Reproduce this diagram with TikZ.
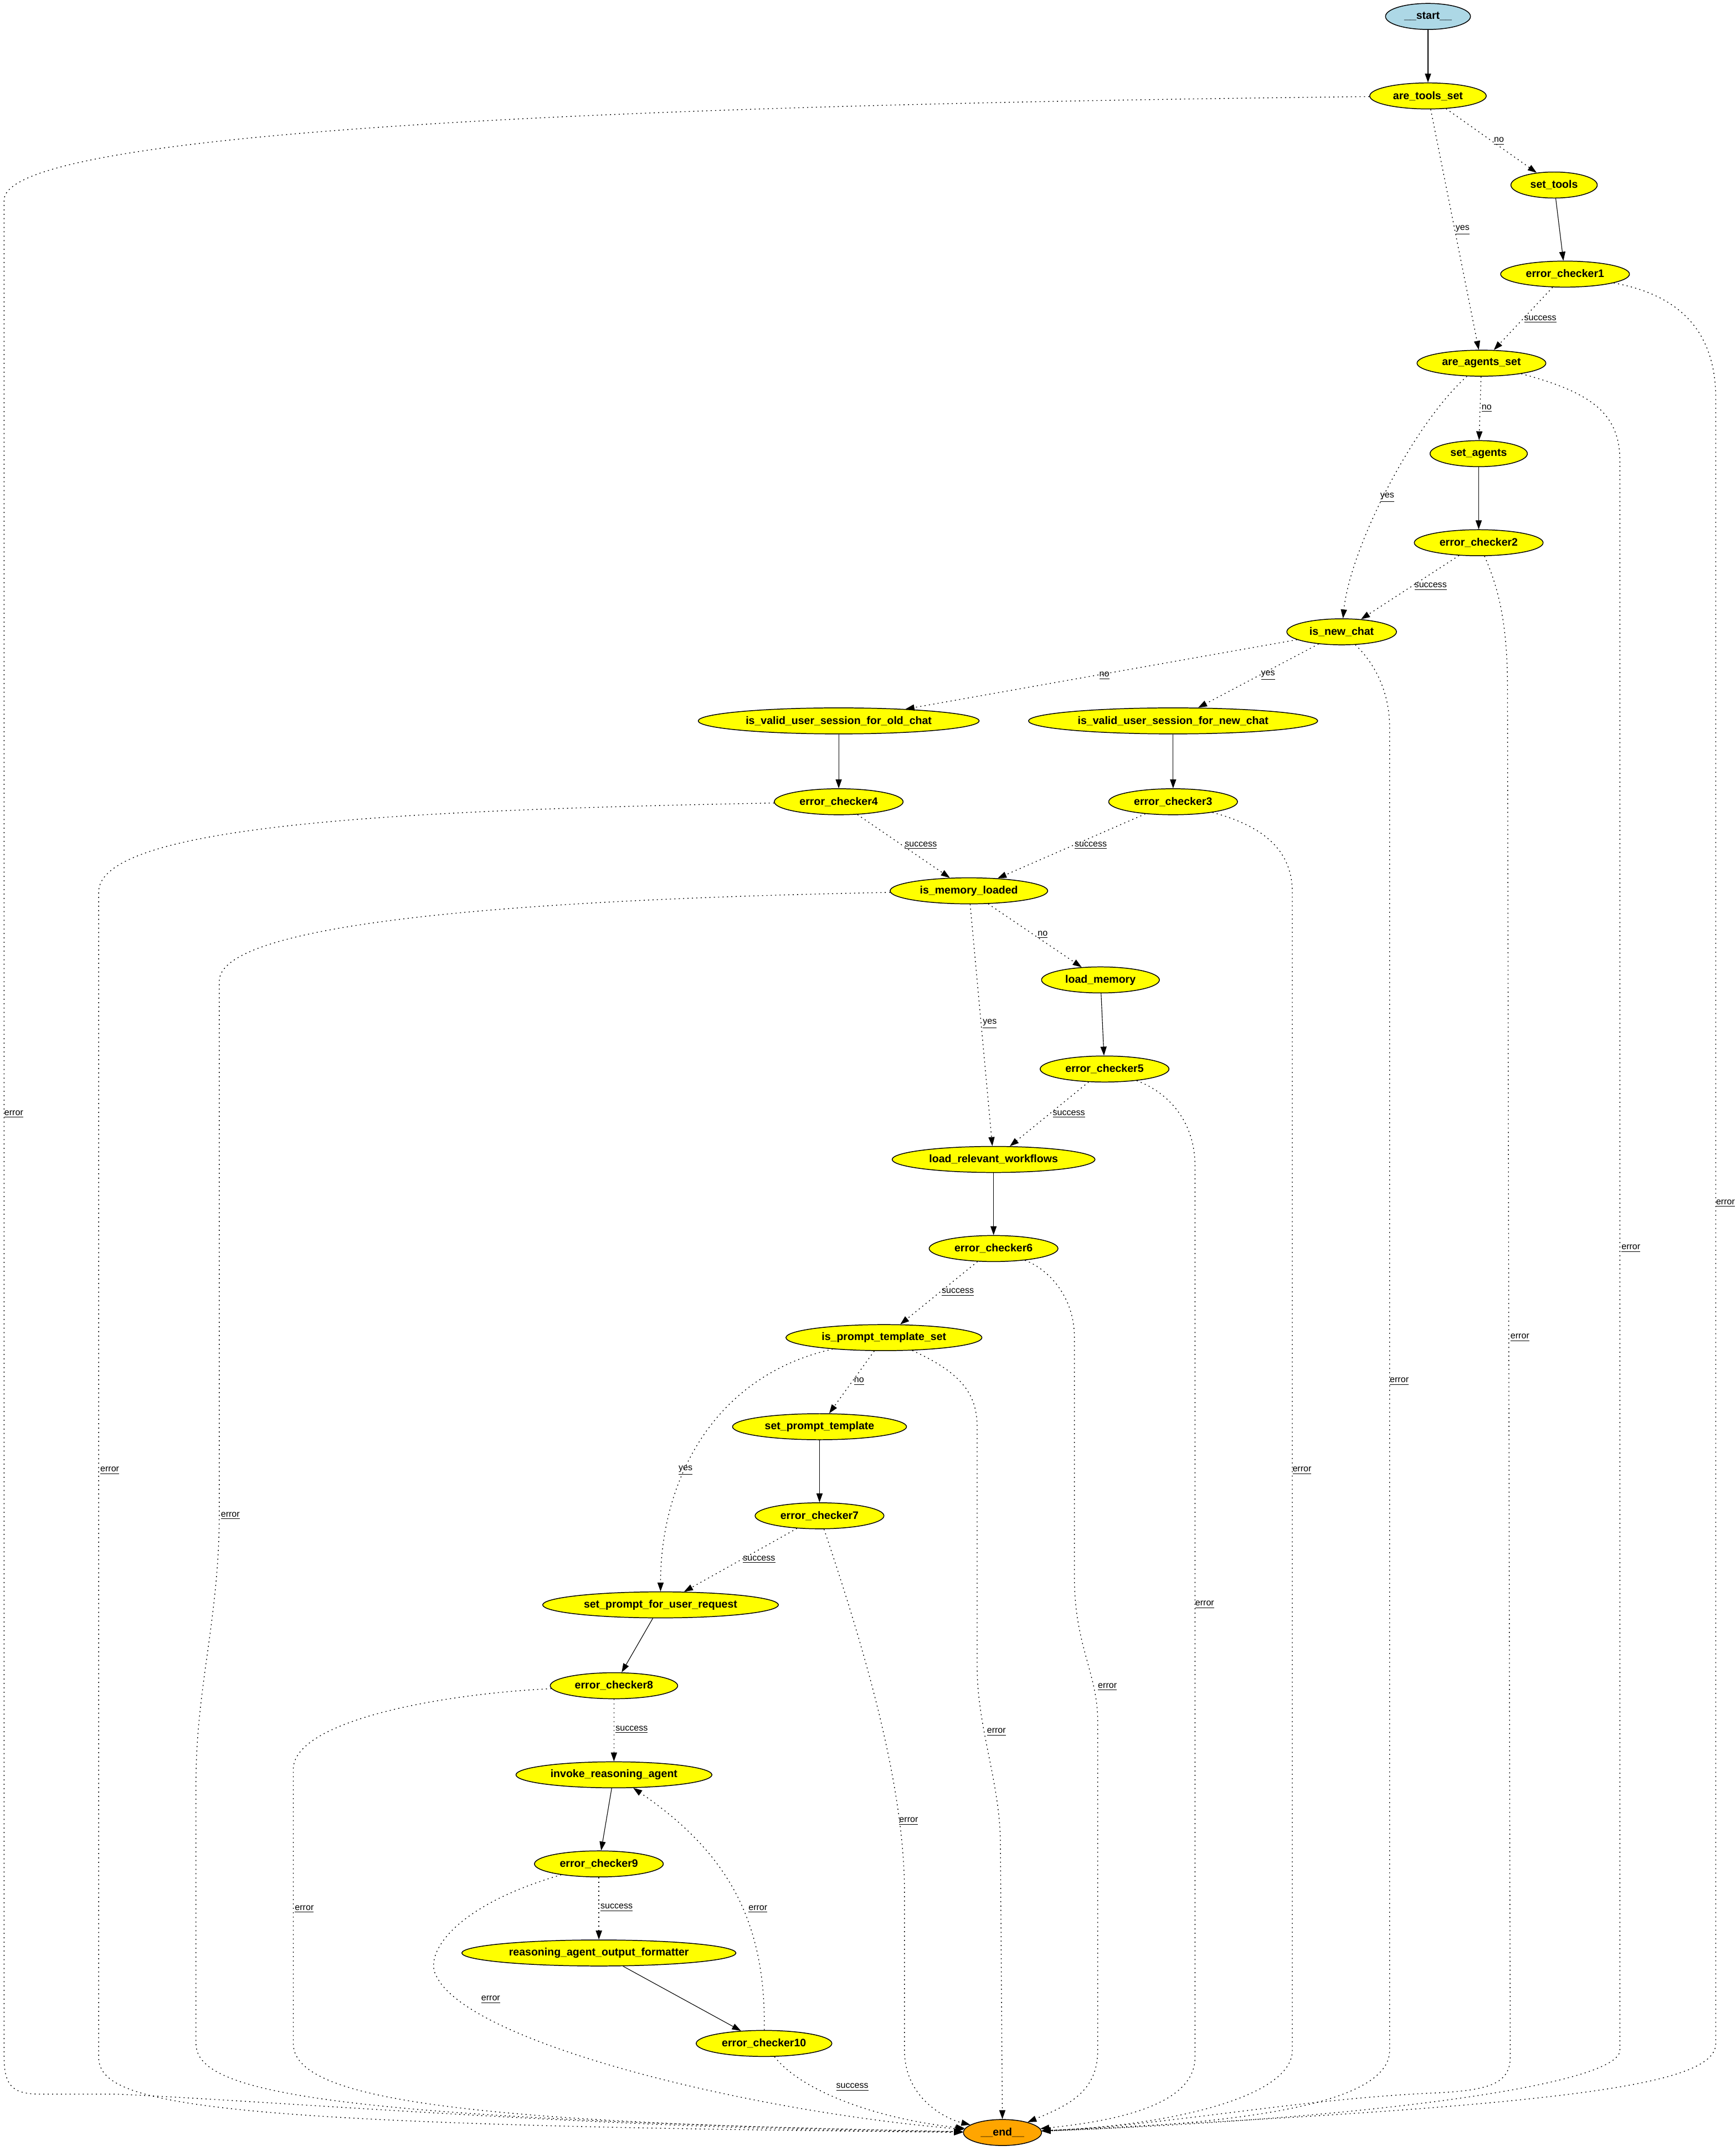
\documentclass[tikz,border=0pt]{standalone}
\usepackage{fontspec}
\setmainfont{Liberation Sans}
\usetikzlibrary{arrows.meta,shapes.geometric}
\definecolor{gvyellow}{HTML}{FFFF00}
\definecolor{gvblue}{HTML}{ADD8E6}
\definecolor{gvorange}{HTML}{FFA500}
\tikzstyle{vertex}=[ellipse,draw=black,line width=0.6pt,fill=gvyellow,minimum height=19pt,inner sep=0pt,font=\bfseries\fontsize{7.9}{9}\selectfont]
\tikzstyle{terminal vertex} = [vertex, fill=gvblue]
\tikzstyle{edge} = [draw,line width=0.45pt,-{Triangle[length=6.5pt,width=4.5pt]}]
\tikzstyle{branch edge} = [edge, line width=0.55pt, dash pattern=on 0.8pt off 2.4pt]
\tikzstyle{edge label} = [anchor=west,inner sep=0pt,font=\fontsize{6.5}{7.5}\selectfont]

\begin{document}
\begin{tikzpicture}[x=1pt,y=-1pt]
    \useasboundingbox (0,0) rectangle (1266.5,1569.5);
    % Draw the agent graph
    % First we draw the vertices
    \foreach \pos/\name/\w/\txt/\col in {{(1042,12)/start/62/\_\_start\_\_/gvblue}, {(731.5,1556)/finish/57/\_\_end\_\_/gvorange}}
        \node[terminal vertex, fill=\col, minimum width=\w] (\name) at \pos {\txt};

    \foreach \pos/\name/\w/\txt in {{(1042,70)/tools/85/are\_tools\_set}, {(1134,135)/settools/63/set\_tools},
        {(1142,200)/ec1/94/error\_checker1}, {(1081,265)/agents/94/are\_agents\_set},
        {(1079,331)/setagents/71/set\_agents}, {(1079,396)/ec2/94/error\_checker2},
        {(979,461)/newchat/80/is\_new\_chat}, {(612,526)/oldsess/205/is\_valid\_user\_session\_for\_old\_chat},
        {(856,526)/newsess/211/is\_valid\_user\_session\_for\_new\_chat}, {(612,585)/ec4/94/error\_checker4},
        {(856,585)/ec3/94/error\_checker3}, {(707,650)/memory/115/is\_memory\_loaded},
        {(803,715)/loadmem/86/load\_memory}, {(806,780)/ec5/94/error\_checker5},
        {(725,846)/workflows/148/load\_relevant\_workflows}, {(725,911)/ec6/94/error\_checker6},
        {(645,976)/prompt/143/is\_prompt\_template\_set}, {(598,1041)/setprompt/127/set\_prompt\_template},
        {(598,1106)/ec7/94/error\_checker7}, {(482,1171)/request/172/set\_prompt\_for\_user\_request},
        {(448,1230)/ec8/93/error\_checker8}, {(448,1295)/invoke/143/invoke\_reasoning\_agent},
        {(437,1360)/ec9/94/error\_checker9}, {(437,1425)/formatter/200/reasoning\_agent\_output\_formatter},
        {(557.5,1491)/ec10/99/error\_checker10}}
        \node[vertex, minimum width=\w] (\name) at \pos {\txt};

    % Connect vertices with plain edges
    \foreach \source/\dest in {start/tools, settools/ec1, setagents/ec2, oldsess/ec4, newsess/ec3, loadmem/ec5,
        workflows/ec6, setprompt/ec7, request/ec8, invoke/ec9, formatter/ec10}
        \path[edge] (\source) -- (\dest);

    % Conditional edges between steps
    \foreach \source/\dest in {tools/settools, tools/agents, ec1/agents, agents/setagents, ec2/newchat,
        newchat/oldsess, newchat/newsess, ec4/memory, ec3/memory, memory/loadmem, memory/workflows,
        ec5/workflows, ec6/prompt, prompt/setprompt, ec7/request, ec8/invoke, ec9/formatter}
        \path[branch edge] (\source) -- (\dest);
    \path[branch edge] (agents) .. controls (1030,311) and (985,401) .. (newchat);
    \path[branch edge] (prompt) .. controls (520,1004) and (482,1081) .. (request);
    \path[branch edge] (ec10) .. controls (559,1401) and (530,1351) .. (invoke);
    \path[branch edge] (ec10) .. controls (585,1526) and (640,1546) .. (finish);

    % Error edges down to the end, left side
    \path[branch edge] (tools) .. controls (500,76) and (3,93) .. (3,146) -- (3,1501)
        .. controls (3,1523) and (10,1528) .. (30,1528) -- (85,1528) .. controls (200,1533) and (450,1554) .. (finish);
    \path[branch edge] (ec4) .. controls (300,591) and (72,601) .. (72,651) -- (72,1501)
        .. controls (72,1536) and (150,1551) .. (finish);
    \path[branch edge] (memory) .. controls (400,656) and (160,671) .. (160,716) -- (160,1104)
        .. controls (160,1181) and (143,1231) .. (143,1301) -- (143,1491) .. controls (143,1526) and (230,1546) .. (finish);
    \path[branch edge] (ec8) .. controls (320,1236) and (214,1256) .. (214,1291) -- (214,1491)
        .. controls (214,1531) and (330,1549) .. (finish);
    \path[branch edge] (ec9) .. controls (330,1391) and (310,1426) .. (318,1441)
        .. controls (340,1491) and (550,1541) .. (finish);
    \path[branch edge] (ec7) .. controls (630,1201) and (660,1301) .. (660,1381) -- (660,1496)
        .. controls (660,1531) and (690,1546) .. (finish);
    \path[branch edge] (prompt) .. controls (700,1001) and (713,1016) .. (713,1041) -- (713,1216)
        .. controls (713,1261) and (730,1301) .. (730,1346) -- (finish);

    % Error edges down to the end, right side
    \path[branch edge] (ec6) .. controls (765,926) and (784,946) .. (784,976) -- (784,1151)
        .. controls (784,1201) and (801,1221) .. (801,1256) -- (801,1496) .. controls (801,1526) and (780,1536) .. (finish);
    \path[branch edge] (ec5) .. controls (850,796) and (872,816) .. (872,851) -- (872,1501)
        .. controls (872,1531) and (830,1546) .. (finish);
    \path[branch edge] (ec3) .. controls (915,601) and (943,616) .. (943,651) -- (943,1496)
        .. controls (943,1531) and (850,1551) .. (finish);
    \path[branch edge] (newchat) .. controls (1000,481) and (1014,501) .. (1014,531) -- (1014,1496)
        .. controls (1014,1531) and (930,1549) .. (finish);
    \path[branch edge] (ec2) .. controls (1092,426) and (1100,451) .. (1100,501) -- (1102,1501)
        .. controls (1102,1521) and (1085,1525) .. (1050,1527) .. controls (950,1531) and (850,1551) .. (finish);
    \path[branch edge] (agents) .. controls (1160,286) and (1182,301) .. (1182,336) -- (1182,1496)
        .. controls (1182,1521) and (1000,1546) .. (finish);
    \path[branch edge] (ec1) .. controls (1230,216) and (1252,246) .. (1252,291) -- (1252,1491)
        .. controls (1252,1521) and (1150,1536) .. (finish);

    % Edge labels
    \foreach \pos/\txt [count=\i] in {{(1090,103)/no}, {(1062,168)/yes}, {(1112,233)/success}, {(1081,298)/no},
        {(1007,363)/yes}, {(1032,428)/success}, {(802,493)/no}, {(920,493)/yes}, {(660,617)/success},
        {(784,617)/success}, {(757,682)/no}, {(717,747)/yes}, {(768,813)/success}, {(687,943)/success},
        {(623,1008)/no}, {(495,1073)/yes}, {(542,1138)/success}, {(449,1262)/success}, {(438,1392)/success},
        {(610,1523)/success}, {(3,813)/error}, {(1252,878)/error}, {(1183,911)/error}, {(1102,976)/error},
        {(1014,1008)/error}, {(73,1073)/error}, {(943,1073)/error}, {(161,1106)/error}, {(872,1171)/error},
        {(801,1231)/error}, {(720,1264)/error}, {(656,1329)/error}, {(215,1393)/error}, {(546,1393)/error},
        {(351,1459)/error}}
        \node[edge label] (label\i) at \pos {\underline{\txt}};
\end{tikzpicture}
\end{document}
